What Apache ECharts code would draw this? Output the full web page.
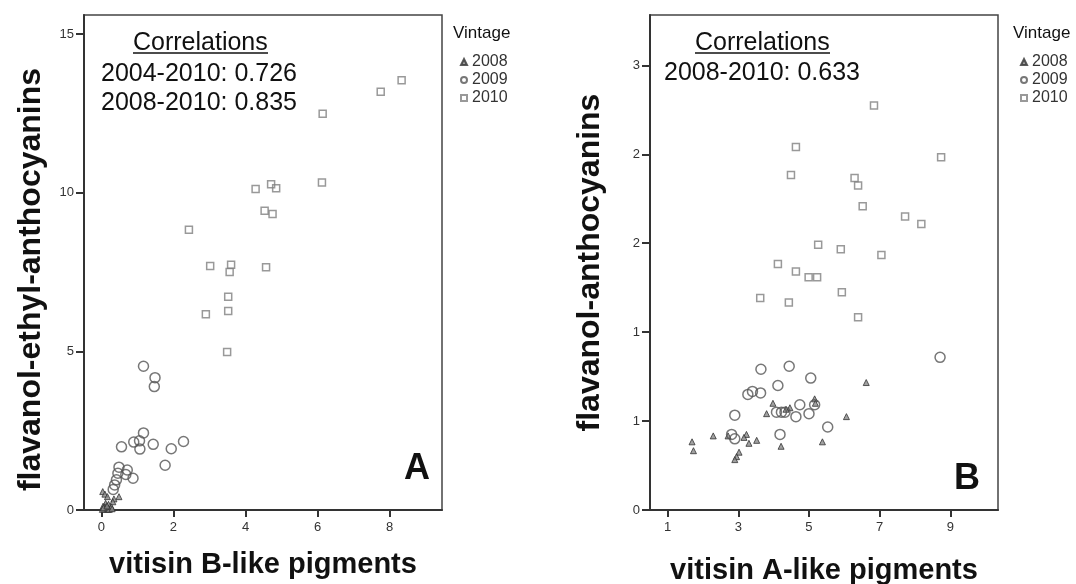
<!DOCTYPE html>
<html><head><meta charset="utf-8">
<script src="https://cdn.jsdelivr.net/npm/echarts@6/dist/echarts.min.js"></script>
<style>html,body{margin:0;padding:0;background:#fff}#c{width:1076px;height:584px}</style>
</head><body><div id="c"></div>
<script>
const vintages = ['2008', '2009', '2010'];
const xTicksA = [0, 2, 4, 6, 8];
const yTicksA = [0, 5, 10, 15];
const xTicksB = [1, 3, 5, 7, 9];
const yTicksB = [0, 0.6, 1.2, 1.8, 2.4, 3.0];

// Panel A: vitisin B-like pigments vs flavanol-ethyl-anthocyanins
const a2008 = [[0.04,0.58],[0.10,0.50],[0.17,0.42],[0.49,0.42],[0.35,0.35],[0.32,0.26],[0.12,0.21],[0.20,0.18],[0.05,0.12],[0.10,0.10],[0.15,0.08],[0.20,0.06],[0.25,0.05],[0.08,0.04],[0.13,0.03],[0.18,0.02],[0.22,0.02],[0.03,0.02],[0.28,0.10],[0.30,0.04],[0.06,0.07],[0.16,0.13]];
const a2009 = [[1.17,4.53],[1.49,4.17],[1.47,3.89],[1.17,2.43],[1.06,2.18],[0.90,2.14],[0.56,1.99],[1.07,1.92],[1.44,2.07],[1.94,1.93],[2.28,2.16],[1.77,1.41],[0.49,1.35],[0.72,1.26],[0.46,1.16],[0.68,1.12],[0.88,1.00],[0.42,0.95],[0.37,0.79],[0.33,0.65]];
const a2010 = [[8.33,13.54],[7.75,13.18],[6.14,12.49],[4.28,10.12],[4.71,10.27],[4.85,10.14],[6.12,10.32],[4.53,9.43],[4.75,9.33],[2.43,8.83],[3.02,7.69],[3.60,7.73],[3.56,7.50],[4.57,7.65],[3.52,6.72],[3.52,6.27],[2.90,6.17],[3.49,4.98]];

// Panel B: vitisin A-like pigments vs flavanol-anthocyanins
const b2008 = [[6.62,0.86],[3.98,0.72],[3.80,0.65],[5.16,0.75],[4.46,0.69],[6.06,0.63],[5.38,0.46],[4.21,0.43],[3.52,0.47],[3.30,0.45],[3.23,0.51],[3.16,0.49],[2.71,0.50],[2.29,0.50],[1.69,0.46],[1.73,0.40],[3.02,0.39],[2.95,0.36],[2.90,0.34],[4.35,0.68],[5.18,0.72]];
const b2009 = [[8.71,1.03],[3.64,0.95],[4.44,0.97],[5.05,0.89],[4.12,0.84],[3.27,0.78],[3.40,0.80],[3.63,0.79],[4.74,0.71],[5.16,0.71],[5.00,0.65],[4.63,0.63],[4.08,0.66],[4.22,0.66],[4.32,0.66],[2.90,0.64],[5.53,0.56],[4.18,0.51],[2.81,0.51],[2.90,0.48]];
const b2010 = [[6.84,2.73],[4.63,2.45],[8.74,2.38],[4.49,2.26],[6.29,2.24],[6.39,2.19],[6.52,2.05],[7.72,1.98],[8.18,1.93],[5.26,1.79],[5.90,1.76],[7.05,1.72],[4.12,1.66],[4.63,1.61],[4.99,1.57],[5.23,1.57],[3.62,1.43],[4.43,1.40],[5.93,1.47],[6.39,1.30]];

const FONT = '"Liberation Sans", Arial, sans-serif';
const chart = echarts.init(document.getElementById('c'), null, {renderer: 'canvas'});

const styles = {
  '2008': {symbol: 'triangle', symbolSize: 6, itemStyle: {color: '#8a8a8a', borderColor: '#333', borderWidth: 1}},
  '2009': {symbol: 'circle', symbolSize: 10, itemStyle: {color: 'rgba(255,255,255,0)', borderColor: '#555', borderWidth: 1.5}},
  '2010': {symbol: 'rect', symbolSize: 7, itemStyle: {color: 'rgba(255,255,255,0)', borderColor: '#808080', borderWidth: 1.5}}
};

function mkSeries(name, data, idx) {
  const s = styles[name];
  return {
    type: 'scatter', name: name, data: data,
    xAxisIndex: idx, yAxisIndex: idx,
    symbol: s.symbol, symbolSize: s.symbolSize,
    itemStyle: s.itemStyle,
    emphasis: {disabled: true}
  };
}

function xAxisOpt(idx, min, max, ticks, name, gap) {
  return {
    type: 'value', gridIndex: idx, min: min, max: max,
    axisLine: {show: true, onZero: false, lineStyle: {color: '#333', width: 2}},
    axisTick: {show: true, customValues: ticks, length: 7, lineStyle: {color: '#333', width: 2}},
    axisLabel: {customValues: ticks, fontSize: 13, color: '#333', margin: 11, fontFamily: FONT},
    splitLine: {show: false},
    name: name, nameLocation: 'middle', nameGap: gap,
    nameTextStyle: {fontSize: 29, fontWeight: 'bold', color: '#111', fontFamily: FONT}
  };
}
function yAxisOpt(idx, min, max, ticks, name, gap, fmt, pad) {
  return {
    type: 'value', gridIndex: idx, min: min, max: max,
    axisLine: {show: true, onZero: false, lineStyle: {color: '#333', width: 2}},
    axisTick: {show: true, customValues: ticks, length: 8, lineStyle: {color: '#333', width: 2}},
    axisLabel: {customValues: ticks, fontSize: 13, color: '#333', margin: 10, fontFamily: FONT, formatter: fmt},
    splitLine: {show: false},
    name: name, nameLocation: 'middle', nameGap: gap,
    nameTextStyle: {fontSize: 32, fontWeight: 'bold', color: '#111', fontFamily: FONT, padding: pad}
  };
}

function legendOpt(left) {
  return {
    orient: 'vertical', left: left, top: 49,
    itemWidth: 6, itemHeight: 6, itemGap: 2,
    textStyle: {fontSize: 16, color: '#333', fontFamily: FONT},
    data: vintages.map(v => ({name: v, icon: styles[v].symbol})),
    selectedMode: false
  };
}

function txt(x, y, text, size, weight, align) {
  return {type: 'text', x: x, y: y, silent: true,
    style: {text: text, fontSize: size, fontWeight: weight || 'normal', fontFamily: FONT,
      fill: '#111', textAlign: align || 'left', textVerticalAlign: 'middle', align: align || 'left', verticalAlign: 'middle'}};
}

chart.setOption({
  animation: false,
  backgroundColor: '#fff',
  grid: [
    {left: 84, top: 15, width: 358, height: 495, show: true, borderColor: '#444', borderWidth: 1.5, containLabel: false, outerBoundsMode: 'none'},
    {left: 650, top: 15, width: 348, height: 495, show: true, borderColor: '#444', borderWidth: 1.5, containLabel: false, outerBoundsMode: 'none'}
  ],
  xAxis: [
    xAxisOpt(0, -0.48, 9.45, xTicksA, 'vitisin B-like pigments', 40),
    xAxisOpt(1, 0.5, 10.35, xTicksB, 'vitisin A-like pigments', 46)
  ],
  yAxis: [
    yAxisOpt(0, 0, 15.6, yTicksA, 'flavanol-ethyl-anthocyanins', 37, v => String(v), [0, 34, 0, 0]),
    yAxisOpt(1, 0, 3.34, yTicksB, 'flavanol-anthocyanins', 44, v => String(Math.round(v)), [0, 0, 0, 0])
  ],
  legend: [legendOpt(455), legendOpt(1015)],
  graphic: [
    txt(133, 43, 'Correlations', 25),
    {type: 'line', silent: true, shape: {x1: 133, y1: 53, x2: 268, y2: 53}, style: {stroke: '#111', lineWidth: 1.5}},
    txt(101, 74, '2004-2010: 0.726', 25),
    txt(101, 103, '2008-2010: 0.835', 25),
    txt(417, 469, 'A', 36, 'bold', 'center'),
    txt(453, 33, 'Vintage', 17),
    txt(695, 43, 'Correlations', 25),
    {type: 'line', silent: true, shape: {x1: 695, y1: 53, x2: 830, y2: 53}, style: {stroke: '#111', lineWidth: 1.5}},
    txt(664, 73, '2008-2010: 0.633', 25),
    txt(967, 479, 'B', 36, 'bold', 'center'),
    txt(1013, 33, 'Vintage', 17)
  ],
  series: [
    mkSeries('2008', a2008, 0), mkSeries('2009', a2009, 0), mkSeries('2010', a2010, 0),
    mkSeries('2008', b2008, 1), mkSeries('2009', b2009, 1), mkSeries('2010', b2010, 1)
  ]
});
</script>
</body></html>
